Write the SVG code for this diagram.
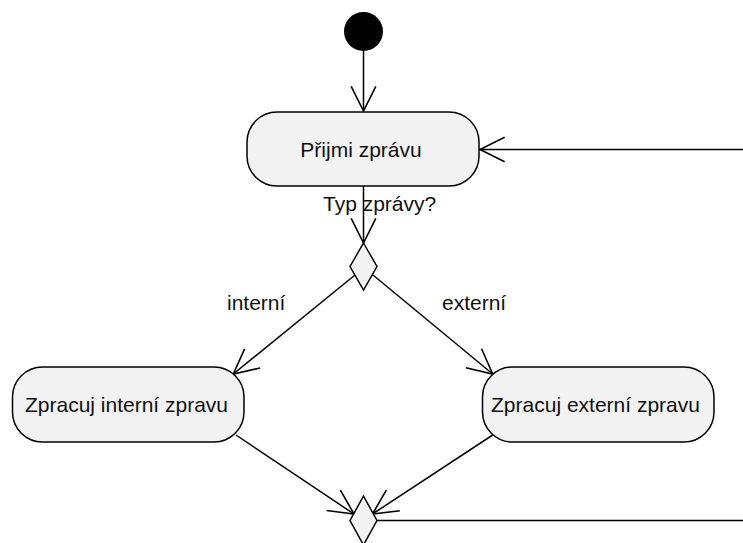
<svg xmlns="http://www.w3.org/2000/svg" width="743" height="543" viewBox="0 0 743 543">
<defs>
<style>
.node{fill:#f2f2f2;stroke:#000;stroke-width:1.5}
.t{font-family:"Liberation Sans",Arial,sans-serif;font-size:21px;fill:#111}
.c{fill:none;stroke:#000;stroke-width:1.5}
</style>
<marker id="open" markerUnits="userSpaceOnUse" markerWidth="30" markerHeight="30" viewBox="-25 -14 28 28" refX="0" refY="0" orient="auto" overflow="visible">
<path d="M-23,-11.5 L0,0 L-23,11.5" fill="none" stroke="#000" stroke-width="1.5"/>
</marker>
</defs>
<rect width="743" height="543" fill="#fff"/>
<g id="connectors">
<line class="c" x1="363.5" y1="51" x2="363.5" y2="111" marker-end="url(#open)"/>
<line class="c" x1="363.5" y1="186" x2="363.5" y2="243" marker-end="url(#open)"/>
<line class="c" x1="355" y1="275" x2="233.3" y2="374" marker-end="url(#open)"/>
<line class="c" x1="373" y1="275" x2="492.7" y2="374" marker-end="url(#open)"/>
<line class="c" x1="236" y1="435" x2="354" y2="514" marker-end="url(#open)"/>
<line class="c" x1="492.7" y1="435" x2="372.5" y2="514" marker-end="url(#open)"/>
<line class="c" x1="377" y1="520.5" x2="743" y2="520.5"/>
<line class="c" x1="743" y1="149.5" x2="480" y2="149.5" marker-end="url(#open)"/>
<text class="t" x="323" y="211">Typ zprávy?</text>
<text class="t" x="227" y="310">interní</text>
<text class="t" x="442" y="310">externí</text>
</g>
<g id="start">
<circle cx="363.5" cy="31.5" r="19.5" fill="#000"/>
</g>
<g id="prijmi">
<rect class="node" x="247" y="112" width="232" height="74" rx="30" ry="30"/>
<text class="t" x="361" y="157" text-anchor="middle">Přijmi zprávu</text>
</g>
<g id="decision">
<polygon class="node" points="363.5,243 377,266.5 363.5,290 350,266.5"/>
</g>
<g id="interni">
<rect class="node" x="12.5" y="367" width="231.5" height="75" rx="30" ry="30"/>
<text class="t" x="126.5" y="412" text-anchor="middle">Zpracuj interní zpravu</text>
</g>
<g id="externi">
<rect class="node" x="482.5" y="367" width="231.5" height="75" rx="30" ry="30"/>
<text class="t" x="595.5" y="412" text-anchor="middle">Zpracuj externí zpravu</text>
</g>
<g id="merge">
<polygon class="node" points="363.5,496 377,520.5 363.5,545 350,520.5"/>
</g>
</svg>
